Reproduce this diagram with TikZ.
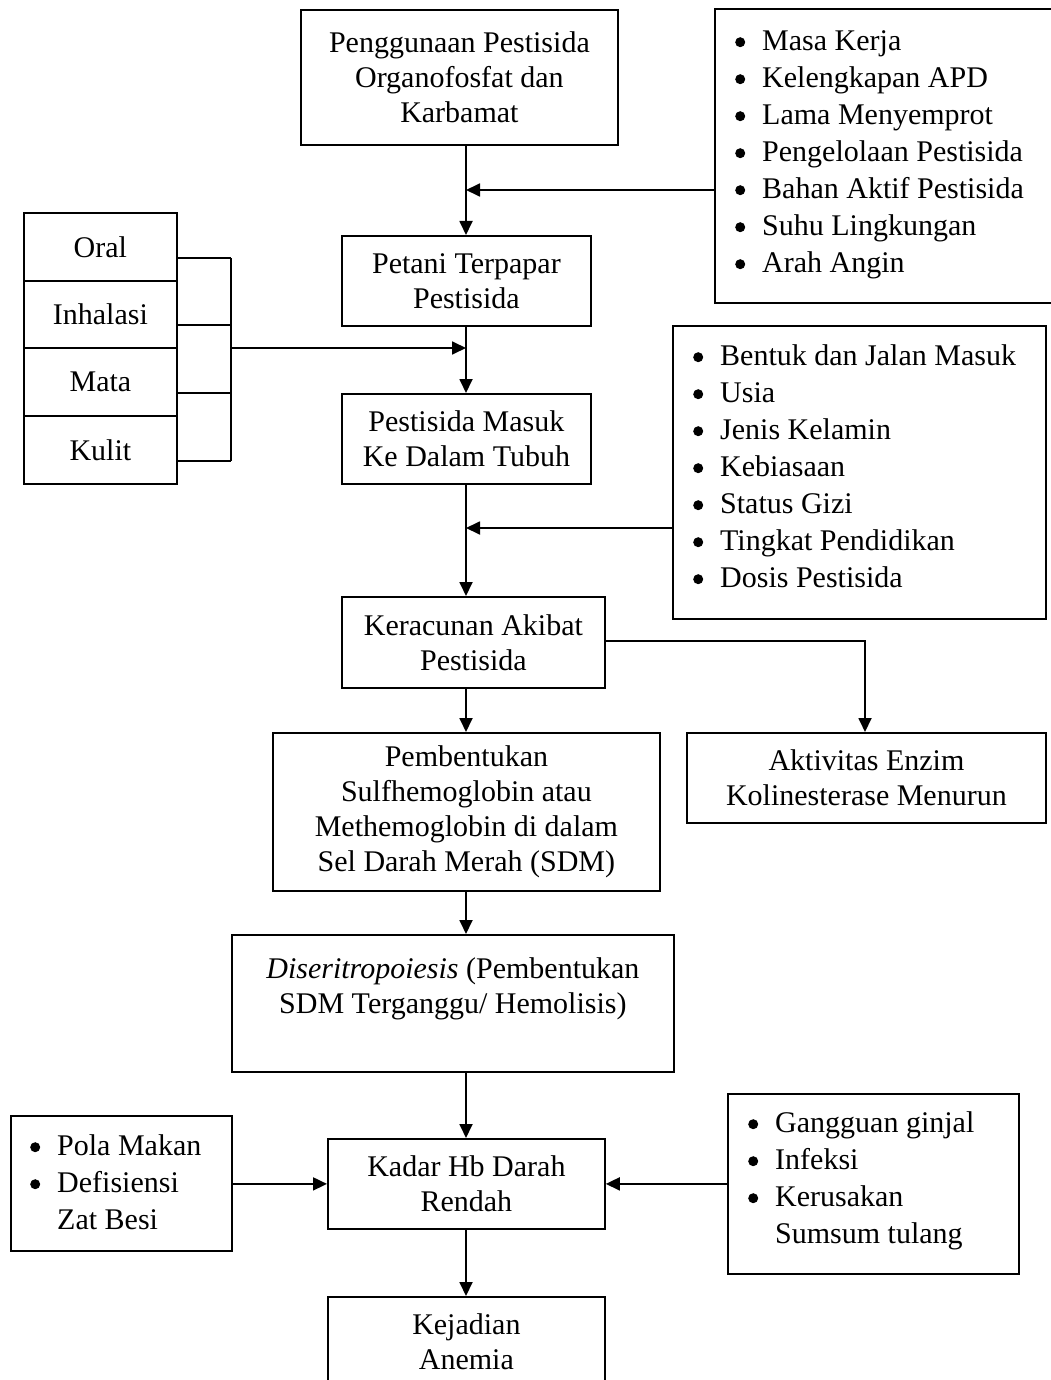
\documentclass[tikz,border=0pt]{standalone}
\usepackage{fontspec}
\setmainfont{Liberation Serif}
\usetikzlibrary{arrows.meta}
\newcommand{\bul}{\makebox[27pt][l]{\tikz[baseline=0pt,x=1pt,y=1pt]{\useasboundingbox (0,0) rectangle (10,10); \fill (5,8) circle[radius=5];}}}
\newcommand{\hng}{\makebox[27pt][l]{}}
\newcommand{\topstrut}{\rule{0pt}{22pt}}
\begin{document}
\begin{tikzpicture}[x=1pt,y=-1pt,
  box/.style={draw, line width=1.8pt, align=center, inner sep=0pt, anchor=north west, font=\fontsize{30}{35}\selectfont},
  lst/.style={align=left, inner sep=0pt, anchor=north west, font=\fontsize{30}{37}\selectfont},
  arr/.style={-{Triangle[length=14pt,width=13pt]}, line width=1.8pt},
  ln/.style={line width=1.8pt}]
\useasboundingbox (0,0) rectangle (1051,1380);
\begin{scope}
\clip (0,0) rectangle (1051,1380);
% main chain
\node[box, minimum width=317pt, minimum height=135pt] (b1) at (300,9) {Penggunaan Pestisida\\Organofosfat dan\\Karbamat};
\node[box, minimum width=249pt, minimum height=90pt] (b2) at (341,235) {Petani Terpapar\\Pestisida};
\node[box, minimum width=249pt, minimum height=90pt] (b3) at (341,393) {Pestisida Masuk\\Ke Dalam Tubuh};
\node[box, minimum width=263pt, minimum height=91pt] (b4) at (341,596) {Keracunan Akibat\\Pestisida};
\node[box, minimum width=387pt, minimum height=158pt] (b5) at (272,732) {Pembentukan\\Sulfhemoglobin atau\\Methemoglobin di dalam\\Sel Darah Merah (SDM)};
\node[box, minimum width=359pt, minimum height=90pt] (akt) at (686,732) {Aktivitas Enzim\\Kolinesterase Menurun};
\node[box, minimum width=442pt, minimum height=137pt] (b6) at (231,934) {\textit{Diseritropoiesis} (Pembentukan\\SDM Terganggu/ Hemolisis)\\\mbox{}};
\node[box, minimum width=277pt, minimum height=90pt] (kadar) at (327,1138) {Kadar Hb Darah\\Rendah};
\node[box, minimum width=277pt, minimum height=90pt] (kej) at (327,1296) {Kejadian\\Anemia};
% left route cells
\node[box, minimum width=153pt, minimum height=68pt] (oral) at (23,212) {Oral};
\node[box, minimum width=153pt, minimum height=67pt] (inh) at (23,280) {Inhalasi};
\node[box, minimum width=153pt, minimum height=68pt] (mata) at (23,347) {Mata};
\node[box, minimum width=153pt, minimum height=68pt] (kulit) at (23,415) {Kulit};
% factor boxes
\node[box, minimum width=342pt, minimum height=294pt] (f1) at (714,8) {};
\node[lst] (f1t) at (735,28) {\topstrut\bul Masa Kerja\\ \bul Kelengkapan APD\\ \bul Lama Menyemprot\\ \bul Pengelolaan Pestisida\\ \bul Bahan Aktif Pestisida\\ \bul Suhu Lingkungan\\ \bul Arah Angin};
\node[box, minimum width=373pt, minimum height=293pt] (f2) at (672,325) {};
\node[lst] (f2t) at (693,343) {\topstrut\bul Bentuk dan Jalan Masuk\\ \bul Usia\\ \bul Jenis Kelamin\\ \bul Kebiasaan\\ \bul Status Gizi\\ \bul Tingkat Pendidikan\\ \bul Dosis Pestisida};
\node[box, minimum width=221pt, minimum height=135pt] (f3) at (10,1115) {};
\node[lst] (f3t) at (30,1133) {\topstrut\bul Pola Makan\\ \bul Defisiensi\\ \hng Zat Besi};
\node[box, minimum width=291pt, minimum height=180pt] (f4) at (727,1093) {};
\node[lst] (f4t) at (748,1110) {\topstrut\bul Gangguan ginjal\\ \bul Infeksi\\ \bul Kerusakan\\ \hng Sumsum tulang};
% coordinates
\coordinate (sp) at (466,0);
\coordinate (j1) at (466,190);
\coordinate (j2) at (466,348);
\coordinate (j3) at (466,528);
\coordinate (k1) at (865,641);
\coordinate (o1) at (231,258);
\coordinate (o2) at (231,325);
\coordinate (o3) at (231,393);
\coordinate (o4) at (231,461);
% connectors
\draw[arr] (b1.south -| sp) -- (b2.north -| sp);
\draw[arr] (f1.west |- j1) -- (j1);
\draw[ln] (oral.east |- o1) -- (o1);
\draw[ln] (inh.east |- o2) -- (o2);
\draw[ln] (mata.east |- o3) -- (o3);
\draw[ln] (kulit.east |- o4) -- (o4);
\draw[ln] (o1) -- (o4);
\draw[arr] (o1 |- j2) -- (j2);
\draw[arr] (b2.south -| sp) -- (b3.north -| sp);
\draw[arr] (b3.south -| sp) -- (b4.north -| sp);
\draw[arr] (f2.west |- j3) -- (j3);
\draw[arr] (b4.south -| sp) -- (b5.north -| sp);
\draw[arr] (b4.east |- k1) -- (k1) -- (akt.north -| k1);
\draw[arr] (b5.south -| sp) -- (b6.north -| sp);
\draw[arr] (b6.south -| sp) -- (kadar.north -| sp);
\draw[arr] (f3.east |- kadar.west) -- (kadar.west);
\draw[arr] (f4.west |- kadar.east) -- (kadar.east);
\draw[arr] (kadar.south -| sp) -- (kej.north -| sp);
\end{scope}
\end{tikzpicture}
\end{document}
